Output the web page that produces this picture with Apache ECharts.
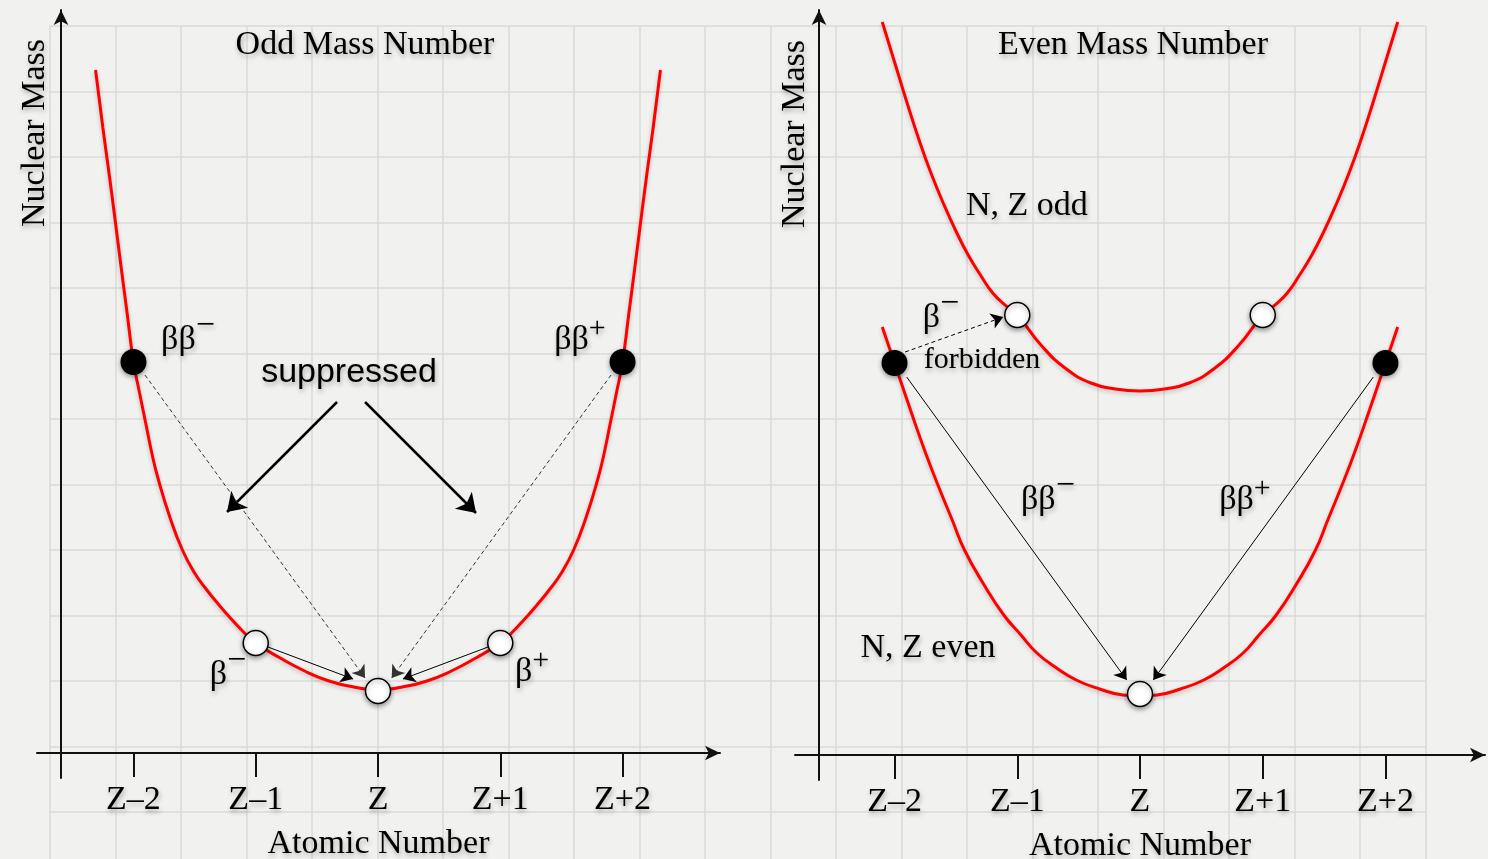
<!DOCTYPE html>
<html><head><meta charset="utf-8">
<script src="https://cdn.jsdelivr.net/npm/echarts@6/dist/echarts.min.js"></script>
<style>html,body{margin:0;padding:0;background:#f1f1ef;}#c{width:1488px;height:859px;}</style>
</head><body><div id="c"></div>
<script>
// ---------- data ----------
const tickValues = [-2, -1, 0, 1, 2];
const tickLabels = ['Z–2', 'Z–1', 'Z', 'Z+1', 'Z+2'];

// Odd mass number curve (offset from Z, nuclear mass in arbitrary units)
const oddCurve = [[-2.31,68.3],[-2.25,62.5],[-2.2,58.0],[-2.15,53.3],[-2.1,48.5],[-2.05,43.8],[-2.0,39.1],[-1.95,36.0],[-1.9,33.0],[-1.85,30.0],[-1.8,27.5],[-1.7,23.5],[-1.6,20.3],[-1.5,18.0],[-1.4,16.3],[-1.3,14.8],[-1.2,13.4],[-1.1,12.1],[-1.0,11.0],[-0.8,9.5],[-0.6,8.2],[-0.4,7.2],[-0.2,6.6],[0,6.3],
                  [0.2,6.6],[0.4,7.2],[0.6,8.2],[0.8,9.5],[1.0,11.0],[1.1,12.1],[1.2,13.4],[1.3,14.8],[1.4,16.3],[1.5,18.0],[1.6,20.3],[1.7,23.5],[1.8,27.5],[1.85,30.0],[1.9,33.0],[1.95,36.0],[2.0,39.1],[2.05,43.8],[2.1,48.5],[2.15,53.3],[2.2,58.0],[2.25,62.5],[2.31,68.3]];
const oddBlack = [[-2,39.1],[2,39.1]];
const oddWhite = [[-1,11.0],[1,11.0],[0,6.2]];

// Even mass number: N,Z odd (upper) and N,Z even (lower)
const evenOddCurve = [[-2.10,73.3],[-2.0,69.3],[-1.9,65.3],[-1.8,61.5],[-1.7,58.1],[-1.6,55.1],[-1.5,52.4],[-1.4,50.0],[-1.3,48.0],[-1.2,46.2],[-1.1,45.0],[-1.0,44.0],[-0.8,40.9],[-0.6,38.6],[-0.4,37.2],[-0.2,36.6],[0,36.4],
                      [0.2,36.6],[0.4,37.2],[0.6,38.6],[0.8,40.9],[1.0,44.0],[1.1,45.0],[1.2,46.2],[1.3,48.0],[1.4,50.0],[1.5,52.4],[1.6,55.1],[1.7,58.1],[1.8,61.5],[1.9,65.3],[2.0,69.3],[2.10,73.3]];
const evenEvenCurve = [[-2.10,42.8],[-2.0,39.2],[-1.87,34.5],[-1.75,30.3],[-1.64,26.8],[-1.53,23.5],[-1.43,20.5],[-1.27,17.0],[-1.11,14.0],[-0.97,12.0],[-0.84,10.2],[-0.68,8.7],[-0.52,7.5],[-0.33,6.6],[-0.14,6.0],[0,5.9],
                       [0.14,6.0],[0.33,6.6],[0.52,7.5],[0.68,8.7],[0.84,10.2],[0.97,12.0],[1.11,14.0],[1.27,17.0],[1.43,20.5],[1.53,23.5],[1.64,26.8],[1.75,30.3],[1.87,34.5],[2.0,39.2],[2.10,42.8]];
const evenBlack = [[-2,39.2],[2,39.2]];
const evenWhite = [[-1,44.0],[1,44.0],[0,6.1]];

// transitions (from -> to)
const oddSuppressedPointers = [[[-0.335,35.1],[-1.235,24.1]],[[-0.106,35.1],[0.802,24.0]]];
const oddDoubleBeta = [[[-1.906,37.8],[-0.106,7.5]],[[1.906,37.8],[0.112,7.5]]];
const oddSingleBeta = [[[-0.9,10.6],[-0.204,7.4]],[[0.9,10.6],[0.204,7.4]]];
const evenDoubleBeta = [[[-1.901,37.8],[-0.108,7.5]],[[1.901,37.8],[0.108,7.5]]];
const evenForbidden = [[[-1.914,40.3],[-1.114,43.8]]];

// annotations [x, mass, text]
const oddSerifNotes = [[-1.554,41.3,'ββ⁻'],[1.652,41.3,'ββ⁺'],[-1.227,7.8,'β⁻'],[1.26,8.1,'β⁺']];
const oddSansNotes = [[-0.237,38.0,'suppressed']];
const evenNotes = [[-0.921,54.9,'N, Z odd'],[-1.621,43.7,'β⁻'],[-0.75,25.5,'ββ⁻'],[0.855,25.5,'ββ⁺'],[-1.727,10.7,'N, Z even']];
const evenSmallNotes = [[-1.287,39.5,'forbidden']];

const panelTitles = ['Odd Mass Number', 'Even Mass Number'];
const axisXName = 'Atomic Number';
const axisYName = 'Nuclear Mass';

// ---------- style ----------
const SERIF = "'Liberation Serif','DejaVu Serif','Times New Roman',serif";
const SANS = "'Liberation Sans','DejaVu Sans',Arial,sans-serif";
const ink = '#000';
const shadowTxt = {textShadowColor:'rgba(0,0,0,0.28)', textShadowBlur:5, textShadowOffsetX:1, textShadowOffsetY:3};

function xAxisCfg(gridIndex, min, max) {
  return {
    type:'value', gridIndex, min, max, offset:-25,
    axisLine:{show:true, onZero:false, symbol:['none','arrow'], symbolSize:[11,15], lineStyle:{color:'#111', width:2}},
    axisTick:{show:true, customValues:tickValues, length:24, inside:false, lineStyle:{color:'#111', width:2}},
    axisLabel:{show:true, customValues:tickValues, margin:30, color:ink, fontFamily:SERIF, fontSize:34,
      formatter:(v)=>tickLabels[tickValues.indexOf(Math.round(v))] || '', ...shadowTxt},
    splitLine:{show:false},
    name:axisXName, nameLocation:'middle', nameGap:74,
    nameTextStyle:{color:ink, fontFamily:SERIF, fontSize:34, ...shadowTxt}
  };
}
function yAxisCfg(gridIndex, min, max) {
  return {
    type:'value', gridIndex, min, max, offset:-24,
    axisLine:{show:true, onZero:false, symbol:['none','arrow'], symbolSize:[11,15], lineStyle:{color:'#111', width:2}},
    axisTick:{show:false}, axisLabel:{show:false}, splitLine:{show:false}
  };
}
const curveStyle = {color:'#ff0000', width:3, opacity:1, shadowColor:'rgba(0,0,0,0.22)', shadowBlur:4, shadowOffsetY:2};
const dotShadow = {shadowColor:'rgba(0,0,0,0.4)', shadowBlur:5, shadowOffsetY:2, opacity:1};

function curve(data, ai) {
  return {type:'line', xAxisIndex:ai, yAxisIndex:ai, data, smooth:0.5, showSymbol:false, symbol:'none',
    lineStyle:curveStyle, z:3, silent:true};
}
function dots(data, ai, black) {
  return {type:'scatter', xAxisIndex:ai, yAxisIndex:ai, data, symbolSize: black ? 26 : 25, z:6, silent:true,
    itemStyle: black ? {color:'#000', ...dotShadow} : {color:'#fff', borderColor:'#000', borderWidth:1.5, ...dotShadow}};
}
function arrows(pairs, ai, opts) {
  return {type:'lines', coordinateSystem:'cartesian2d', xAxisIndex:ai, yAxisIndex:ai, z:5, silent:true,
    symbol:['none','arrow'], symbolSize:opts.head,
    lineStyle:{color:opts.color || '#000', width:opts.width, type:opts.type || 'solid', opacity:1, curveness:0},
    data: pairs.map(p => ({coords:p}))};
}
const supRich = {
  m:{fontFamily:SERIF, fontSize:34, color:ink, padding:[0,0,27,0], ...shadowTxt},
  p:{fontFamily:SERIF, fontSize:30, color:ink, padding:[0,0,21,0], ...shadowTxt}
};
function notes(list, ai, font, size) {
  return {type:'scatter', xAxisIndex:ai, yAxisIndex:ai, symbolSize:0, z:7, silent:true,
    itemStyle:{opacity:1},
    data: list.map(n => ({value:[n[0], n[1]], name:n[2]})),
    label:{show:true, position:'inside', opacity:1, color:ink, fontFamily:font, fontSize:size, ...shadowTxt,
      formatter:(p)=>p.name.replace(/⁻/g,'{m|−}').replace(/⁺/g,'{p|+}'), rich:supRich}};
}

const chart = echarts.init(document.getElementById('c'), null, {renderer:'canvas'});
chart.setOption({
  backgroundColor:'#f1f1ef',
  animation:false,
  grid:[
    {left:37, top:10, width:683, height:768, containLabel:false, outerBoundsMode:'none'},
    {left:795, top:10, width:690, height:770, containLabel:false, outerBoundsMode:'none'},
    {left:50, top:26, width:1375.5, height:851.5, containLabel:false, outerBoundsMode:'none'}
  ],
  xAxis:[
    xAxisCfg(0, -2.789, 2.797),
    xAxisCfg(1, -2.811, 2.811),
    {type:'value', gridIndex:2, min:0, max:21, interval:1, axisLine:{show:false}, axisTick:{show:false}, axisLabel:{show:false},
      splitLine:{show:true, lineStyle:{color:'#dadad8', width:1.5}}, z:0}
  ],
  yAxis:[
    yAxisCfg(0, -2.5, 74.3),
    yAxisCfg(1, -2.5, 74.5),
    {type:'value', gridIndex:2, min:0, max:13, interval:1, inverse:true, axisLine:{show:false}, axisTick:{show:false}, axisLabel:{show:false},
      splitLine:{show:true, lineStyle:{color:'#dadad8', width:1.5}}, z:0}
  ],
  graphic:[
    {type:'text', x:365, y:45, z:10, style:{text:panelTitles[0], fill:ink, font:'34px '+SERIF, align:'center', verticalAlign:'middle', ...shadowTxt}},
    {type:'text', x:1133, y:45, z:10, style:{text:panelTitles[1], fill:ink, font:'34px '+SERIF, align:'center', verticalAlign:'middle', ...shadowTxt}},
    {type:'text', x:35, y:133, rotation:Math.PI/2, z:10, style:{text:axisYName, fill:ink, font:'34px '+SERIF, align:'center', verticalAlign:'middle', ...shadowTxt}},
    {type:'text', x:795, y:134, rotation:Math.PI/2, z:10, style:{text:axisYName, fill:ink, font:'34px '+SERIF, align:'center', verticalAlign:'middle', ...shadowTxt}}
  ],
  series:[
    curve(oddCurve, 0),
    curve(evenOddCurve, 1),
    curve(evenEvenCurve, 1),
    arrows(oddSuppressedPointers, 0, {width:2.5, head:[13,18]}),
    arrows(oddDoubleBeta, 0, {width:1, head:[9,12], type:[4,3], color:'#333'}),
    arrows(oddSingleBeta, 0, {width:1, head:[9,12]}),
    arrows(evenDoubleBeta, 1, {width:1, head:[9,12]}),
    arrows(evenForbidden, 1, {width:1, head:[9,12], type:[4,3]}),
    dots(oddBlack, 0, true),
    dots(oddWhite, 0, false),
    dots(evenBlack, 1, true),
    dots(evenWhite, 1, false),
    notes(oddSerifNotes, 0, SERIF, 34),
    notes(oddSansNotes, 0, SANS, 34),
    notes(evenNotes, 1, SERIF, 34),
    notes(evenSmallNotes, 1, SERIF, 30)
  ]
});
</script></body></html>
